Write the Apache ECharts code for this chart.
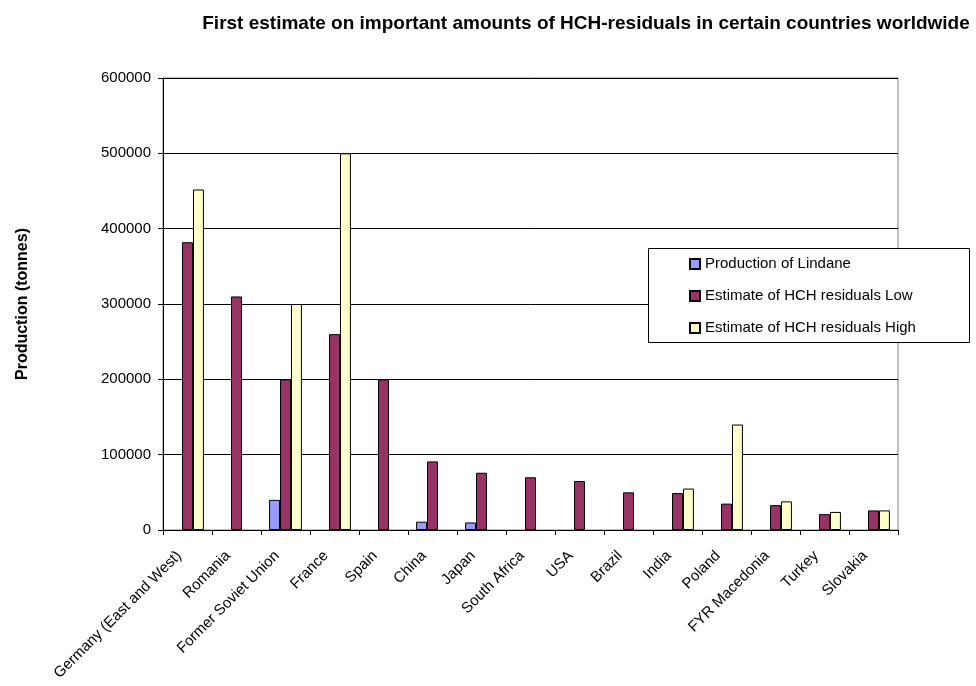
<!DOCTYPE html>
<html>
<head>
<meta charset="utf-8">
<script src="https://cdn.jsdelivr.net/npm/echarts@6/dist/echarts.min.js"></script>
<style>
  html, body { margin: 0; padding: 0; background: #ffffff; }
  #chart { width: 976px; height: 686px; }
</style>
</head>
<body>
<div id="chart"></div>
<script>
// Countries on the category axis
const countries = [
  'Germany (East and West)', 'Romania', 'Former Soviet Union', 'France', 'Spain',
  'China', 'Japan', 'South Africa', 'USA', 'Brazil', 'India', 'Poland',
  'FYR Macedonia', 'Turkey', 'Slovakia'
];

// Production of Lindane (tonnes); null where nothing is reported
const lindane = [null, null, 40000, null, null, 11000, 10000, null, null, null, null, null, null, null, null];

// Estimated HCH residuals, low end (tonnes)
const hchLow = [382000, 310000, 200000, 260000, 200000, 91000, 76000, 70000, 65000, 50000, 49000, 35000, 33000, 21000, 26000];

// Estimated HCH residuals, high end (tonnes)
const hchHigh = [452000, null, 300000, 500000, null, null, null, null, null, null, 55000, 140000, 38000, 24000, 26000];

// Value axis ticks
const yMin = 0;
const yMax = 600000;
const yStep = 100000;

const seriesNames = [
  'Production of Lindane',
  'Estimate of HCH residuals Low',
  'Estimate of HCH residuals High'
];
const seriesColors = ['#9999FF', '#993366', '#FFFFCC'];

const FONT = 'Liberation Sans, Arial, sans-serif';

const chart = echarts.init(document.getElementById('chart'), null, { renderer: 'canvas' });

function barSeries(idx, data) {
  return {
    name: seriesNames[idx],
    type: 'bar',
    data: data,
    barGap: '0%',
    barCategoryGap: '33%',
    itemStyle: { color: seriesColors[idx], borderColor: '#000000', borderWidth: 1 },
    emphasis: { disabled: true },
    animation: false
  };
}

chart.setOption({
  backgroundColor: '#ffffff',
  animation: false,
  title: {
    text: 'First estimate on important amounts of HCH-residuals in certain countries worldwide',
    left: 581,
    textAlign: 'center',
    top: 9,
    textStyle: { fontFamily: FONT, fontSize: 19, fontWeight: 'bold', color: '#000000' }
  },
  // frame behind the legend entries
  graphic: [{
    type: 'rect',
    left: 648,
    top: 248,
    z: 1,
    shape: { width: 321, height: 94 },
    style: { fill: '#ffffff', stroke: '#000000', lineWidth: 1 }
  }],
  legend: {
    orient: 'vertical',
    left: 689,
    top: 256,
    padding: 0,
    itemGap: 16,
    itemWidth: 10,
    itemHeight: 10,
    icon: 'rect',
    z: 5,
    selectedMode: false,
    textStyle: { fontFamily: FONT, fontSize: 15, color: '#000000', lineHeight: 16 },
    data: seriesNames
  },
  grid: {
    left: 163,
    right: 78,
    top: 78,
    bottom: 156,
    show: true,
    borderColor: '#808080',
    borderWidth: 1,
    containLabel: false
  },
  xAxis: {
    type: 'category',
    data: countries,
    boundaryGap: true,
    axisLine: { lineStyle: { color: '#000000', width: 1 } },
    axisTick: { show: true, length: 5, lineStyle: { color: '#000000' } },
    axisLabel: {
      interval: 0,
      rotate: 45,
      margin: 15,
      padding: [0, 12, 0, 0],
      fontFamily: FONT,
      fontSize: 15,
      color: '#000000'
    },
    splitLine: { show: false }
  },
  yAxis: {
    type: 'value',
    min: yMin,
    max: yMax,
    interval: yStep,
    name: 'Production (tonnes)',
    nameLocation: 'middle',
    nameRotate: 90,
    nameGap: 132,
    nameTextStyle: { fontFamily: FONT, fontSize: 16, fontWeight: 'bold', color: '#000000' },
    axisLine: { show: true, lineStyle: { color: '#000000', width: 1 } },
    axisTick: { show: true, length: 5, lineStyle: { color: '#000000' } },
    axisLabel: {
      fontFamily: FONT,
      fontSize: 15,
      color: '#000000',
      margin: 12,
      formatter: function (v) { return String(v); }
    },
    splitLine: { show: true, lineStyle: { color: '#000000', width: 1 } }
  },
  series: [
    barSeries(0, lindane),
    barSeries(1, hchLow),
    barSeries(2, hchHigh)
  ]
});
</script>
</body>
</html>
